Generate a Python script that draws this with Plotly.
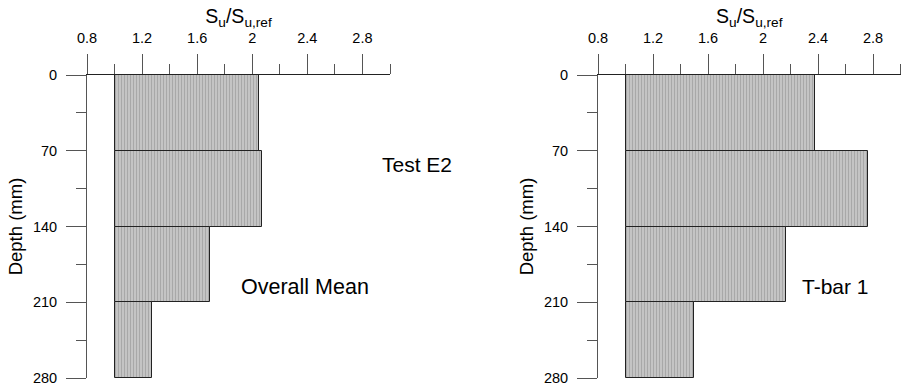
import plotly.graph_objects as go

# Depth intervals (mm) and normalised strength ratios per layer
depth_top = [0, 70, 140, 210]
depth_bottom = [70, 140, 210, 280]
ratio_overall_mean = [2.05, 2.07, 1.69, 1.27]
ratio_tbar1 = [2.38, 2.76, 2.17, 1.50]
ratio_base = 1.0

x_tickvals = [0.8, 1.2, 1.6, 2.0, 2.4, 2.8]
x_ticktext = ["0.8", "1.2", "1.6", "2", "2.4", "2.8"]
y_tickvals = [0, 70, 140, 210, 280]

FONT = "Arial, Liberation Sans, sans-serif"
AXIS_COLOR = "#555555"

centers = [(a + b) / 2 for a, b in zip(depth_top, depth_bottom)]
widths = [b - a for a, b in zip(depth_top, depth_bottom)]

fig = go.Figure()

for ratios, xa, ya in [(ratio_overall_mean, "x", "y"), (ratio_tbar1, "x2", "y2")]:
    fig.add_trace(go.Bar(
        orientation="h",
        y=centers,
        x=[r - ratio_base for r in ratios],
        base=ratio_base,
        width=widths,
        marker=dict(
            color="#c2c2c2",
            line=dict(color="#222222", width=1),
            pattern=dict(shape="|", size=3, solidity=0.34,
                         fgcolor="#a8a8a8", bgcolor="#c4c4c4", fillmode="replace"),
        ),
        xaxis=xa, yaxis=ya,
        showlegend=False,
        hoverinfo="skip",
    ))

def xaxis_cfg(domain, anchor):
    return dict(
        domain=domain, anchor=anchor, side="top", automargin=False,
        range=[0.8, 3.0],
        tickmode="array", tickvals=x_tickvals, ticktext=x_ticktext,
        ticks="outside", ticklen=20, tickwidth=1, tickcolor=AXIS_COLOR,
        minor=dict(tickmode="linear", tick0=0.8, dtick=0.2, ticks="outside",
                   ticklen=10, tickwidth=1, tickcolor=AXIS_COLOR, showgrid=False),
        showline=True, linecolor="#222222", linewidth=1,
        showgrid=False, zeroline=False,
        tickfont=dict(family=FONT, size=14.5, color="black"),
        ticklabelstandoff=5,
        title=dict(text="S<sub>u</sub>/S<sub>u,ref</sub>",
                   font=dict(family=FONT, size=19.5, color="black"), standoff=0),
    )

def yaxis_cfg(domain, anchor):
    return dict(
        domain=domain, anchor=anchor, automargin=False,
        range=[280, 0],
        tickmode="array", tickvals=y_tickvals,
        ticks="outside", ticklen=20, tickwidth=1, tickcolor=AXIS_COLOR,
        minor=dict(tickmode="linear", tick0=0, dtick=35, ticks="outside",
                   ticklen=10, tickwidth=1, tickcolor=AXIS_COLOR, showgrid=False),
        showline=True, linecolor=AXIS_COLOR, linewidth=1,
        showgrid=False, zeroline=False,
        tickfont=dict(family=FONT, size=14.5, color="black"),
        ticklabelstandoff=6,
        title=dict(text="Depth (mm)",
                   font=dict(family=FONT, size=18.5, color="black"), standoff=5),
    )

W, H = 905, 390
y_dom = [1 - 378 / H, 1 - 75 / H]

label_font = dict(family=FONT, size=21, color="black")

fig.update_layout(
    width=W, height=H,
    margin=dict(l=0, r=0, t=0, b=0, autoexpand=False),
    paper_bgcolor="white", plot_bgcolor="white",
    bargap=0,
    xaxis=xaxis_cfg([87 / W, 390 / W], "y"),
    yaxis=yaxis_cfg(y_dom, "x"),
    xaxis2=xaxis_cfg([598 / W, 900.5 / W], "y2"),
    yaxis2=yaxis_cfg(y_dom, "x2"),
    annotations=[
        dict(text="Test E2", x=417 / W, y=83, xref="paper", yref="y",
             showarrow=False, font=label_font),
        dict(text="Overall Mean", x=305 / W, y=196, xref="paper", yref="y",
             showarrow=False, font=dict(family=FONT, size=21.5, color="black")),
        dict(text="T-bar 1", x=871 / W, y=195, xref="paper", yref="y2",
             showarrow=False, font=label_font),
    ],
)

fig.write_html("out.html")
